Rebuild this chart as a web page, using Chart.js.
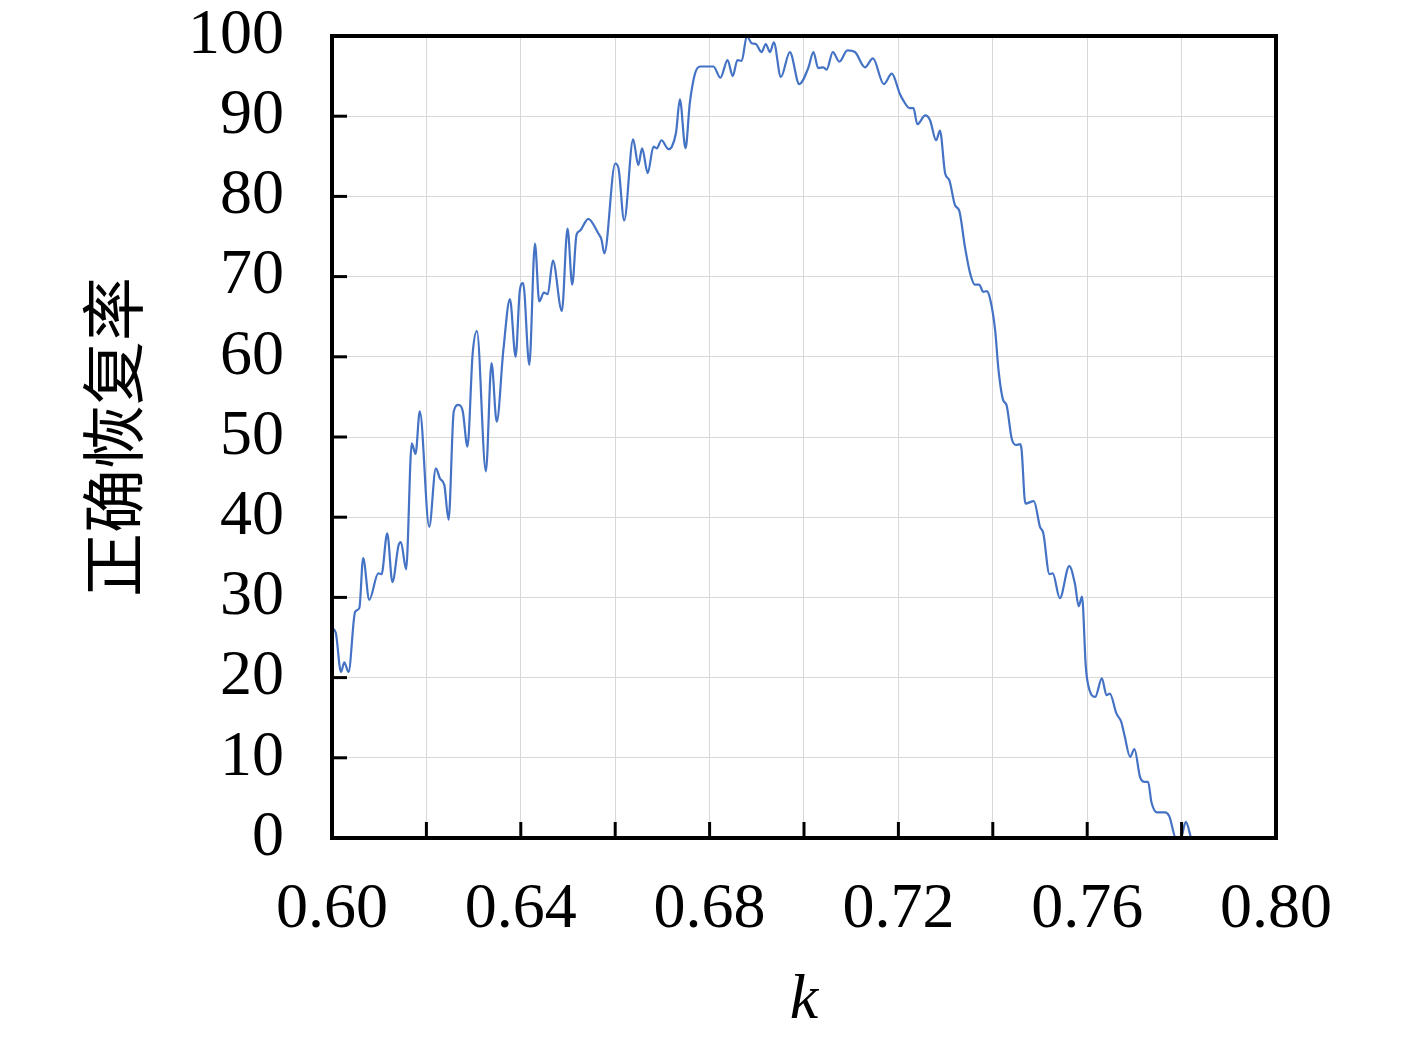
<!DOCTYPE html>
<html>
<head>
<meta charset="utf-8">
<script src="https://cdn.jsdelivr.net/npm/chart.js@4/dist/chart.umd.min.js"></script>
<style>
  html, body { margin: 0; padding: 0; background: #fff; }
  #wrap { width: 1417px; height: 1042px; }
</style>
</head>
<body>
<div id="wrap"><canvas id="chart" width="1417" height="1042"></canvas></div>
<script>
// k values and matching recovery rates (%)
const kValues = [
  0.6000, 0.6008, 0.6019, 0.6026, 0.6035, 0.6049, 0.6058, 0.6066, 0.6079, 0.6098,
  0.6105, 0.6117, 0.6128, 0.6141, 0.6146, 0.6157, 0.6169, 0.6177, 0.6186, 0.6206,
  0.6220, 0.6229, 0.6238, 0.6247, 0.6258, 0.6268, 0.6277, 0.6287, 0.6298, 0.6307,
  0.6326, 0.6338, 0.6349, 0.6363, 0.6377, 0.6389, 0.6398, 0.6405, 0.6418, 0.6430,
  0.6439, 0.6449, 0.6457, 0.6468, 0.6487, 0.6499, 0.6509, 0.6518, 0.6525, 0.6543,
  0.6564, 0.6571, 0.6577, 0.6600, 0.6607, 0.6619, 0.6638, 0.6649, 0.6657, 0.6669,
  0.6681, 0.6688, 0.6698, 0.6713, 0.6720, 0.6729, 0.6737, 0.6749, 0.6758, 0.6769,
  0.6780, 0.6808, 0.6823, 0.6838, 0.6849, 0.6859, 0.6868, 0.6879, 0.6889, 0.6898,
  0.6910, 0.6919, 0.6928, 0.6936, 0.6951, 0.6970, 0.6990, 0.7009, 0.7020, 0.7030,
  0.7041, 0.7048, 0.7061, 0.7075, 0.7092, 0.7108, 0.7129, 0.7146, 0.7169, 0.7186,
  0.7203, 0.7210, 0.7224, 0.7232, 0.7240, 0.7257, 0.7267, 0.7280, 0.7288, 0.7299,
  0.7308, 0.7320, 0.7329, 0.7341, 0.7352, 0.7362, 0.7371, 0.7380, 0.7387, 0.7394,
  0.7405, 0.7412, 0.7422, 0.7429, 0.7440, 0.7449, 0.7458, 0.7461, 0.7469, 0.7487,
  0.7500, 0.7507, 0.7520, 0.7527, 0.7542, 0.7562, 0.7574, 0.7582, 0.7589, 0.7597,
  0.7602, 0.7617, 0.7631, 0.7641, 0.7648, 0.7662, 0.7672, 0.7679, 0.7691, 0.7700,
  0.7712, 0.7722, 0.7729, 0.7736, 0.7748, 0.7765, 0.7774, 0.7788, 0.7798, 0.7809,
  0.7820
]
const rateValues = [
  26.2, 25.6, 20.7, 21.9, 20.7, 28.2, 28.7, 34.9, 29.7, 33.0,
  32.9, 38.0, 31.9, 36.5, 36.9, 33.5, 49.2, 47.9, 53.2, 38.8,
  46.1, 44.8, 44.0, 39.7, 53.2, 54.0, 53.2, 48.8, 60.4, 63.2,
  45.7, 59.2, 51.9, 60.8, 67.2, 60.0, 68.3, 69.2, 59.0, 74.1,
  66.9, 68.0, 67.8, 72.0, 65.7, 76.0, 69.0, 75.2, 75.7, 77.2,
  75.4, 74.6, 72.9, 84.1, 83.5, 77.0, 87.1, 83.9, 86.0, 82.9,
  86.2, 86.0, 87.0, 85.9, 86.2, 88.0, 92.1, 86.0, 91.6, 95.3,
  96.2, 96.2, 94.8, 97.0, 95.0, 97.0, 96.9, 100.0, 99.1, 99.0,
  98.0, 99.0, 98.0, 99.2, 94.9, 98.0, 94.0, 96.0, 98.0, 96.0,
  96.1, 95.8, 98.0, 96.8, 98.2, 98.0, 96.1, 97.2, 94.0, 95.3,
  92.8, 92.0, 91.0, 91.0, 89.0, 90.1, 89.5, 87.0, 88.2, 82.9,
  82.0, 78.9, 78.2, 73.7, 70.4, 69.0, 69.0, 68.1, 68.2, 67.3,
  63.3, 58.4, 54.6, 54.0, 49.8, 49.0, 49.1, 48.4, 41.7, 42.0,
  38.8, 38.0, 32.9, 33.0, 29.9, 33.9, 31.7, 28.9, 30.1, 21.4,
  19.1, 17.6, 19.9, 17.8, 18.0, 15.5, 14.5, 12.8, 10.1, 11.1,
  7.6, 7.0, 7.0, 4.5, 3.2, 3.2, 2.7, 0.0, 0.0, 2.0,
  0.0
]

const xRange = [0.6, 0.8]
const yRange = [0, 100]
const xTitle = 'k'
const yTitle = '正确恢复率'

const SERIF = '"Liberation Serif", "Times New Roman", serif'
const CJK = '"Noto Sans CJK SC", sans-serif'

// frame + inward tick marks, drawn on top of the curve
const framePlugin = {
  id: 'frame',
  afterDatasetsDraw(chart) {
    const { ctx, chartArea: a, scales } = chart
    ctx.save()
    ctx.strokeStyle = '#000'
    ctx.lineCap = 'butt'

    ctx.lineWidth = 3
    scales.y.ticks.forEach(t => {
      const py = scales.y.getPixelForValue(t.value)
      ctx.beginPath()
      ctx.moveTo(a.left, py)
      ctx.lineTo(a.left + 15, py)
      ctx.stroke()
    })
    scales.x.ticks.forEach(t => {
      const px = scales.x.getPixelForValue(t.value)
      ctx.beginPath()
      ctx.moveTo(px, a.bottom)
      ctx.lineTo(px, a.bottom - 16)
      ctx.stroke()
    })

    ctx.lineWidth = 4
    ctx.strokeRect(a.left, a.top, a.right - a.left, a.bottom - a.top)
    ctx.restore()
  }
}

function buildChart() {
  const el = document.getElementById('chart')
  new Chart(el, {
    type: 'line',
    data: {
      datasets: [{
        data: kValues.map((k, i) => ({ x: k, y: rateValues[i] })),
        borderColor: '#4472c4',
        borderWidth: 2.2,
        pointRadius: 0,
        fill: false,
        cubicInterpolationMode: 'monotone'
      }]
    },
    options: {
      responsive: false,
      devicePixelRatio: 1,
      animation: false,
      layout: { padding: { left: 0, top: 36, right: 141, bottom: 0 } },
      plugins: { legend: { display: false }, tooltip: { enabled: false } },
      scales: {
        x: {
          type: 'linear',
          min: xRange[0],
          max: xRange[1],
          afterFit: s => { s.height = 204; s.paddingLeft = 0; s.paddingRight = 0 },
          border: { display: false },
          grid: { color: '#d8d8d8', lineWidth: 1, drawTicks: false },
          ticks: {
            stepSize: 0.02,
            autoSkip: false,
            maxRotation: 0,
            padding: 40,
            color: '#000',
            font: { family: SERIF, size: 64, lineHeight: 1 },
            callback: v => (Math.round(v * 100) % 4 === 0 ? v.toFixed(2) : '')
          },
          title: {
            display: true,
            text: xTitle,
            color: '#000',
            padding: { top: 0, bottom: 9 },
            font: { family: SERIF, size: 64, style: 'italic', lineHeight: 1 }
          }
        },
        y: {
          min: yRange[0],
          max: yRange[1],
          afterFit: s => { s.width = 332; s.paddingTop = 0; s.paddingBottom = 0 },
          border: { display: false },
          grid: { color: '#d8d8d8', lineWidth: 1, drawTicks: false },
          ticks: {
            stepSize: 10,
            padding: 48,
            color: '#000',
            font: { family: SERIF, size: 64, lineHeight: 1 }
          },
          title: {
            display: true,
            text: yTitle,
            color: '#000',
            padding: { top: 81, bottom: 0 },
            font: { family: CJK, size: 64, lineHeight: 1 }
          }
        }
      }
    },
    plugins: [framePlugin]
  })
}

Promise.all([
  document.fonts.load('64px "Liberation Serif"'),
  document.fonts.load('italic 64px "Liberation Serif"'),
  document.fonts.load('64px "Noto Sans CJK SC"', yTitle)
]).catch(() => {}).then(buildChart)
</script>
</body>
</html>
